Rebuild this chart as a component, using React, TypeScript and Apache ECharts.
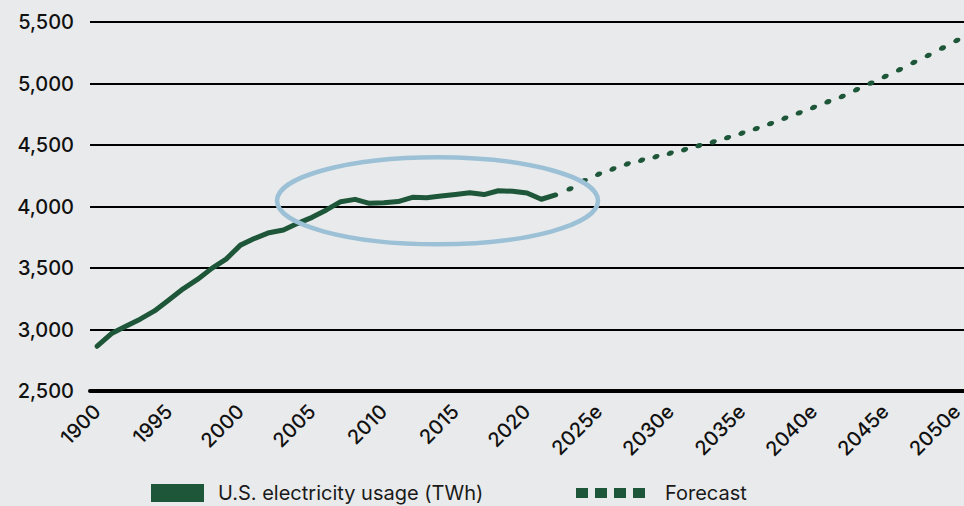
import React, { useEffect, useRef } from "react";
import * as echarts from "echarts";

const years: string[] = Array.from({ length: 61 }, (_, i) => String(1990 + i));
const tickLabels = ["1900", "1995", "2000", "2005", "2010", "2015", "2020", "2025e", "2030e", "2035e", "2040e", "2045e", "2050e"];
const yTicks = [2500, 3000, 3500, 4000, 4500, 5000, 5500];

// 1990–2022
const usage = [
  2864, 2967, 3027, 3084, 3151, 3239, 3331, 3407, 3497, 3572,
  3686, 3741, 3787, 3809, 3863, 3912, 3972, 4039, 4058, 4026,
  4031, 4040, 4075, 4072, 4085, 4098, 4112, 4097, 4128, 4124,
  4110, 4059, 4094,
];
// 2023–2050
const forecast = [
  4143, 4210, 4262, 4305, 4346, 4376, 4405, 4433, 4462, 4495,
  4525, 4560, 4596, 4633, 4674, 4718, 4761, 4805, 4851, 4894,
  4949, 5003, 5057, 5112, 5171, 5228, 5288, 5350,
];

const FONT = "Inter, 'Noto Sans', sans-serif";
const GREEN = "#1d5638";

export default function App() {
  const ref = useRef<HTMLDivElement>(null);
  useEffect(() => {
    if (!ref.current) return;
    const chart = echarts.init(ref.current, undefined, { renderer: "svg" });
    const forecastData = (usage.map(() => null) as (number | null)[]).concat(forecast);
    chart.setOption({
      animation: false,
      backgroundColor: "#e9eaeb",
      textStyle: { fontFamily: FONT },
      grid: { left: 90, right: 0, top: 22, bottom: 115, containLabel: false, outerBoundsMode: "none" },
      legend: [
        {
          left: 151,
          top: 483,
          padding: 0,
          itemWidth: 53,
          itemHeight: 18,
          data: [{ name: "U.S. electricity usage (TWh)", icon: "rect" }],
          textStyle: { fontSize: 20, color: "#1a1a1a", fontFamily: FONT, padding: [0, 0, 0, 9] },
        },
        {
          left: 576,
          top: 483,
          padding: 0,
          itemWidth: 69,
          itemHeight: 10,
          data: [
            {
              name: "Forecast",
              icon: "path://M0,0h12v10h-12z M19,0h12v10h-12z M38,0h12v10h-12z M57,0h12v10h-12z",
              itemStyle: { color: GREEN },
            },
          ],
          textStyle: { fontSize: 20, color: "#1a1a1a", fontFamily: FONT, padding: [0, 0, 0, 15] },
        },
      ],
      xAxis: {
        type: "category",
        data: years,
        boundaryGap: true,
        axisLine: { lineStyle: { color: "#000", width: 4 } },
        axisTick: { show: false },
        axisLabel: {
          interval: 4,
          rotate: 45,
          margin: 17,
          fontSize: 20,
          fontWeight: 500,
          color: "#111",
          fontFamily: FONT,
          hideOverlap: false,
          formatter: (_v: string, idx: number) => tickLabels[idx / 5] ?? "",
        },
        splitLine: { show: false },
      },
      yAxis: {
        type: "value",
        min: yTicks[0],
        max: yTicks[yTicks.length - 1],
        interval: 500,
        axisLine: { show: false },
        axisTick: { show: false },
        axisLabel: {
          margin: 16,
          fontSize: 20,
          fontWeight: 500,
          color: "#111",
          fontFamily: FONT,
          formatter: (v: number) => v.toLocaleString("en-US"),
        },
        splitLine: { lineStyle: { color: "#000", width: 2 } },
      },
      series: [
        {
          name: "U.S. electricity usage (TWh)",
          type: "line",
          data: usage,
          showSymbol: false,
          symbol: "none",
          itemStyle: { color: GREEN },
          lineStyle: { color: GREEN, width: 5, join: "round", cap: "round" },
          z: 3,
        },
        {
          name: "Forecast",
          type: "line",
          data: forecastData,
          showSymbol: true,
          symbol: "circle",
          symbolSize: [7.5, 5],
          symbolRotate: 22,
          itemStyle: { color: GREEN },
          lineStyle: { opacity: 0, width: 0 },
          z: 3,
        },
      ],
      graphic: [
        {
          type: "ellipse",
          z: 10,
          shape: { cx: 437.5, cy: 200.8, rx: 160.5, ry: 43.5 },
          style: { fill: "none", stroke: "#9cc1d7", lineWidth: 4.5 },
        },
      ],
    });
    return () => chart.dispose();
  }, []);
  return <div ref={ref} style={{ position: "absolute", left: 0, top: 0, width: 964, height: 506 }} />;
}
